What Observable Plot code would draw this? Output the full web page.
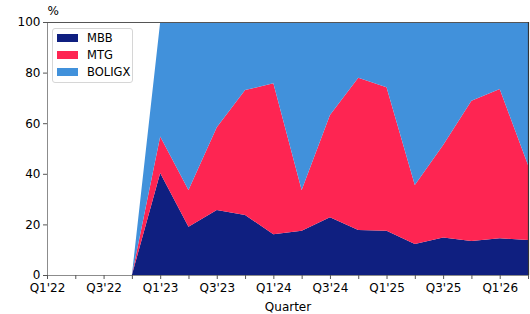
<!DOCTYPE html>
<html>
<head>
<meta charset="utf-8">
<script src="https://cdn.jsdelivr.net/npm/d3@7"></script>
<script src="https://cdn.jsdelivr.net/npm/@observablehq/plot@0.6"></script>
<style>
  body { margin: 0; background: #fff; }
  #wrap { position: relative; width: 530px; height: 314px; font-family: "DejaVu Sans", sans-serif; }
  #legend { position: absolute; left: 52px; top: 28px; width: 79px; height: 53px; border: 1px solid #d6d6d6; border-radius: 3px; background: rgba(255,255,255,0.9); font-size: 11.5px; color: #000; }
  .row { position: absolute; left: 4px; height: 14px; line-height: 14px; white-space: nowrap; }
  .sw { display: inline-block; width: 21px; height: 8px; vertical-align: middle; margin-right: 9px; margin-top: -2px; }
</style>
</head>
<body>
<div id="wrap"></div>
<script>
const quarters = ["Q1'22","Q2'22","Q3'22","Q4'22","Q1'23","Q2'23","Q3'23","Q4'23","Q1'24","Q2'24","Q3'24","Q4'24","Q1'25","Q2'25","Q3'25","Q4'25","Q1'26","Q2'26"];
const seriesNames = ["MBB", "MTG", "BOLIGX"];
const colors = ["#0f1f80", "#fe2552", "#4191db"];
const mbb    = [null, null, null, 0, 40.3, 19.1, 25.7, 23.7, 16.1, 17.5, 22.8, 17.8, 17.5, 12.3, 14.8, 13.4, 14.5, 13.8];
const mtg    = [null, null, null, 0, 14.4, 14.5, 32.7, 49.4, 59.7, 16.1, 40.4, 60.2, 56.7, 23.3, 36.6, 55.5, 59.0, 29.7];
const boligx = [null, null, null, 0, 45.3, 66.4, 41.6, 26.9, 24.2, 66.4, 36.8, 22.0, 25.8, 64.4, 48.6, 31.1, 26.5, 56.5];
const yTicks = [0, 20, 40, 60, 80, 100];

const seriesValues = [mbb, mtg, boligx];
const data = [];
seriesNames.forEach((s, k) => {
  seriesValues[k].forEach((v, i) => {
    if (v !== null) data.push({ i, q: quarters[i], series: s, value: v });
  });
});
const qIdx = quarters.map((_, i) => i);

const chart = Plot.plot({
  width: 530,
  height: 314,
  marginLeft: 47,
  marginRight: 2,
  marginTop: 22,
  marginBottom: 39,
  style: { fontFamily: "DejaVu Sans, sans-serif", fontSize: "12px", color: "#000" },
  x: { type: "linear", domain: [0, quarters.length - 1] },
  y: { domain: [0, 100] },
  color: { domain: seriesNames, range: colors },
  marks: [
    Plot.areaY(data, { x: "i", y: "value", z: "series", fill: "series", order: seriesNames, curve: "linear" }),
    Plot.ruleY([0], { stroke: "#8c8c8c" }),
    Plot.ruleX([0], { stroke: "#8c8c8c" }),
    Plot.ruleY([100], { stroke: "#555" }),
    Plot.ruleX([quarters.length - 1], { stroke: "#333", strokeWidth: 1.2 }),
    Plot.axisX(qIdx, { tickSize: 4, tickPadding: 4, stroke: "#555", tickFormat: i => i % 2 === 0 ? quarters[i] : "", label: null, fontSize: 12 }),
    Plot.axisY(yTicks, { tickSize: 4, tickPadding: 3, stroke: "#555", label: null, fontSize: 12 }),
    Plot.text(["Quarter"], { frameAnchor: "bottom", dy: 35, fontSize: 12, fill: "#000" }),
    Plot.text(["%"], { frameAnchor: "top-left", dy: -16, dx: 0, textAnchor: "start", fontSize: 12, fill: "#000" })
  ]
});

const wrap = document.getElementById("wrap");
wrap.appendChild(chart);
const legend = document.createElement("div");
legend.id = "legend";
seriesNames.forEach((s, k) => {
  const row = document.createElement("div");
  row.className = "row";
  row.style.top = (2 + k * 17) + "px";
  const sw = document.createElement("span");
  sw.className = "sw";
  sw.style.background = colors[k];
  row.appendChild(sw);
  row.appendChild(document.createTextNode(s));
  legend.appendChild(row);
});
wrap.appendChild(legend);
</script>
</body>
</html>
